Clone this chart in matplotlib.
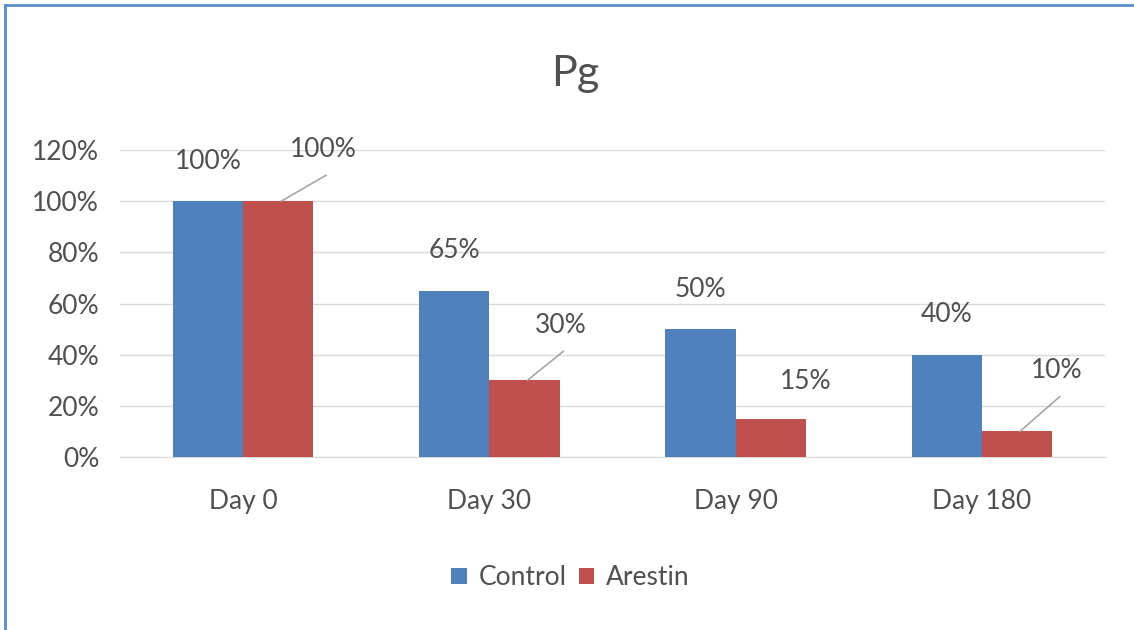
import numpy as np
import matplotlib
matplotlib.use('Agg')
import matplotlib.pyplot as plt
from matplotlib.lines import Line2D

plt.rcParams['font.family'] = ['Lato', 'DejaVu Sans']

days = ['Day 0', 'Day 30', 'Day 90', 'Day 180']
control = [1.00, 0.65, 0.50, 0.40]
arestin = [1.00, 0.30, 0.15, 0.10]
yticks = [0.0, 0.2, 0.4, 0.6, 0.8, 1.0, 1.2]

BLUE = '#4F81BD'
RED = '#C0504D'
TEXT = '#505050'
GRID = '#D9D9D9'
FS = 19

fig = plt.figure(figsize=(11.34, 6.3), dpi=100)
ax = fig.add_axes([120 / 1134, 0.2746, 985 / 1134, 0.4873])

x = np.arange(len(days))
w = 0.285
b1 = ax.bar(x - w / 2, control, w, color=BLUE, label='Control', zorder=3)
b2 = ax.bar(x + w / 2, arestin, w, color=RED, label='Arestin', zorder=3)

ax.set_xlim(-0.5, len(days) - 0.5)
ax.set_ylim(0, 1.2)
ax.set_yticks(yticks)
ax.set_yticklabels([f'{int(round(v * 100))}%' for v in yticks])
ax.set_xticks(x)
ax.set_xticklabels(days)
ax.tick_params(length=0, labelsize=FS, colors=TEXT)
ax.tick_params(axis='y', pad=15)
ax.tick_params(axis='x', pad=23)
ax.grid(axis='y', color=GRID, lw=1, zorder=0)
for s in ['top', 'right', 'left']:
    ax.spines[s].set_visible(False)
ax.spines['bottom'].set_color(GRID)

px = 0.72  # pixels -> points at 100 dpi

# Control labels sit straight above the bars
for xi, v in zip(x, control):
    ax.annotate(f'{int(round(v * 100))}%', xy=(xi - w / 2, v), xytext=(0, 40 * px),
                textcoords='offset points', ha='center', va='center',
                fontsize=FS, color=TEXT)

# Arestin labels are pulled up and right, most with a leader line
lab_off = [(45, 52), (36, 55), (35, 37), (40, 61)]
leader = [True, True, False, True]
for xi, v, (dx, dy), ln in zip(x, arestin, lab_off, leader):
    ax.annotate(f'{int(round(v * 100))}%', xy=(xi + w / 2, v), xytext=(dx * px, dy * px),
                textcoords='offset points', ha='center', va='center',
                fontsize=FS, color=TEXT)
    if ln:
        ax.annotate('', xy=(xi + w / 2 + 3 / 246, v), xytext=(dx * px, (dy - 26) * px),
                    textcoords='offset points',
                    arrowprops=dict(arrowstyle='-', color='#A6A6A6', lw=1.2,
                                    shrinkA=0, shrinkB=0))

fig.text(0.507, 0.883, 'Pg', ha='center', va='center', fontsize=31, color=TEXT)

fig.legend(handles=[b1, b2], loc='center', bbox_to_anchor=(0.503, 0.083), ncol=2,
           frameon=False, fontsize=FS, handlelength=0.6, handleheight=0.6,
           handletextpad=0.45, columnspacing=0.45, labelcolor=TEXT)

# thin blue frame along top and left edges
fig.add_artist(Line2D([5 / 1134, 5 / 1134], [0, 1 - 5 / 630], color='#5B8BD0', lw=2))
fig.add_artist(Line2D([5 / 1134, 1], [1 - 5 / 630, 1 - 5 / 630], color='#5B8BD0', lw=2))

fig.savefig('out.png', dpi=100, facecolor='white')
